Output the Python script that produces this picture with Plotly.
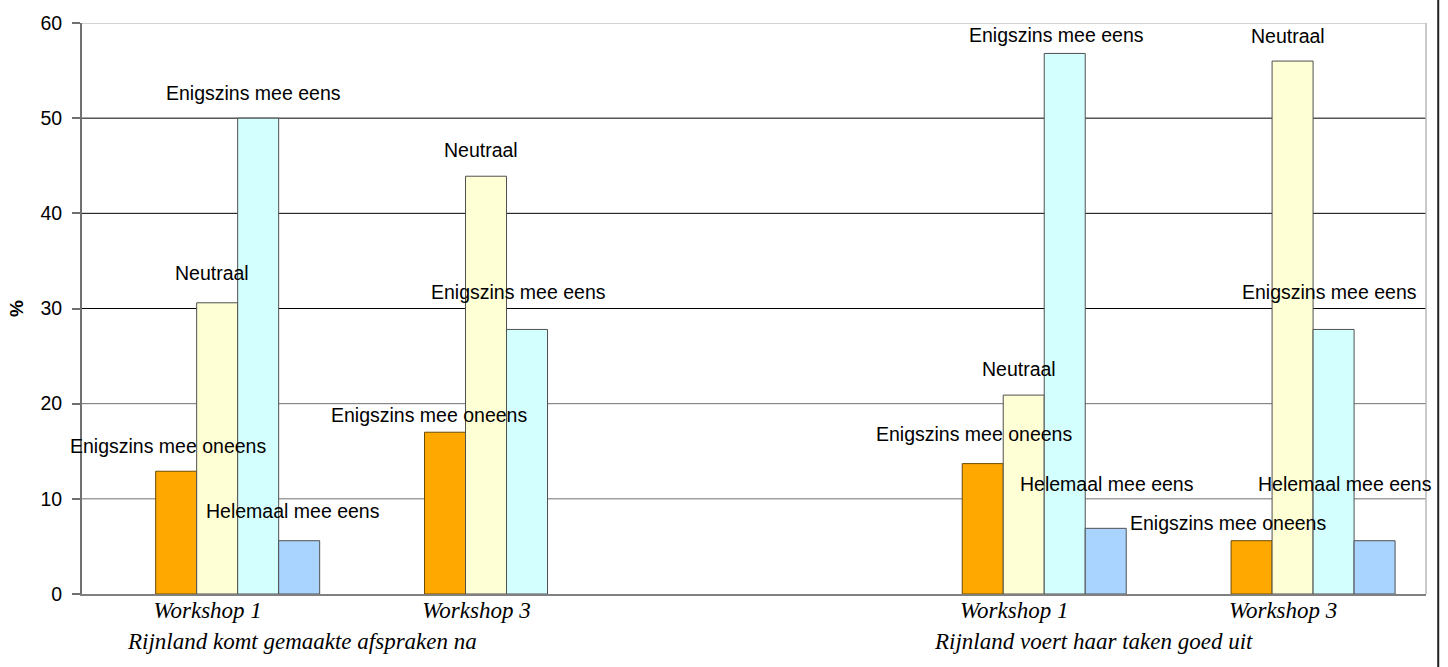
import plotly.graph_objects as go

# ---------------- data ----------------
groups = ["Rijnland komt gemaakte afspraken na", "Rijnland voert haar taken goed uit"]
workshops = ["Workshop 1", "Workshop 3"]
series_names = ["Enigszins mee oneens", "Neutraal", "Enigszins mee eens", "Helemaal mee eens"]
oneens = [12.9, 17.0, 13.7, 5.6]
neutraal = [30.6, 43.9, 20.9, 56.0]
eens = [50.0, 27.8, 56.8, 27.8]
helemaal = [5.6, None, 6.9, 5.6]
y_ticks = [0, 10, 20, 30, 40, 50, 60]

# ---------------- style ----------------
colors = ["#FFA800", "#FFFFD6", "#D4FFFF", "#A8D4FF"]
outline = ["#6b4c00", "#505050", "#505050", "#505050"]
# label offsets (px) relative to top-centre of each bar: (dx, dy)
label_dx = [[-8.4, -16.1, -8.3, -23.4],
            [-5.3, -5.2, -5.2, -5.0],
            [-4.8, -8.6, -8.4, -4.1],
            [-6.5, 0, 1.4, -29.8]]
label_dy = [[25.5, 17.3, 30.0, 17.6],
            [29.5, 26.3, 26.4, 25.5],
            [25.2, 37.3, 18.5, 37.9],
            [29.3, 0, 44.6, 57.0]]

bargap = 0.39
n_series = 4
bw = (1 - bargap) / n_series

# category positions: one empty slot between the two groups
xpos = []
ticktext = []
for gi, g in enumerate(groups):
    for wi, w in enumerate(workshops):
        xpos.append(gi * 3 + wi)
        ticktext.append(w)

values = [oneens, neutraal, eens, helemaal]

fig = go.Figure()
for si, (name, vals) in enumerate(zip(series_names, values)):
    fig.add_trace(go.Bar(
        x=xpos, y=vals, name=name,
        marker=dict(color=colors[si], line=dict(color=outline[si], width=1)),
        showlegend=False,
    ))

annotations = []
label_font = dict(family="Liberation Sans, Arial", size=19.5, color="black")
for si, (name, vals) in enumerate(zip(series_names, values)):
    for ci, v in enumerate(vals):
        if v is None:
            continue
        annotations.append(dict(
            x=xpos[ci] + (si - (n_series - 1) / 2) * bw, y=v,
            xref="x", yref="y", text=name, showarrow=False,
            xanchor="center", yanchor="middle",
            xshift=label_dx[si][ci], yshift=label_dy[si][ci],
            font=label_font,
        ))

# group labels under the axis
for gi, g in enumerate(groups):
    annotations.append(dict(
        x=xpos[gi * 2], y=0, xref="x", yref="y", text=g, showarrow=False,
        xanchor="left", yanchor="middle", xshift=-112.7, yshift=-47,
        font=dict(family="Liberation Serif", size=23, color="black", style="italic"),
    ))

shapes = []
# horizontal gridlines: upper ones black, lower ones grey, top border light grey
for t in y_ticks[1:]:
    if t == 60:
        col = "#a8a8a8"
    elif t >= 30:
        col = "#000000"
    else:
        col = "#707070"
    shapes.append(dict(type="line", xref="x domain", yref="y", x0=0, x1=1, y0=t, y1=t,
                       line=dict(color=col, width=1), layer="below"))
# right border of plot area
shapes.append(dict(type="line", xref="x domain", yref="y domain", x0=1, x1=1, y0=0, y1=1,
                   line=dict(color="#b8b8b8", width=1.5), layer="below"))
# outer frame line at the right edge of the image
shapes.append(dict(type="line", xref="paper", yref="paper", x0=1.0091, x1=1.0091, y0=-0.2, y1=1.1,
                   line=dict(color="#202020", width=2)))

fig.update_layout(
    width=1448, height=667,
    margin=dict(l=82, r=22, t=15, b=73, pad=0),
    paper_bgcolor="white", plot_bgcolor="white",
    barmode="group", bargap=bargap, bargroupgap=0,
    annotations=annotations, shapes=shapes,
    xaxis=dict(
        range=[-0.579, 4.420], tickvals=xpos, ticktext=ticktext,
        showgrid=False, zeroline=False, ticks="",
        showline=True, linecolor="#808080", linewidth=2,
        tickfont=dict(family="Liberation Serif", size=23, color="black", style="italic"),
        ticklabelshift=-30, ticklabelstandoff=-6,
    ),
    yaxis=dict(
        range=[0, 60], tickvals=y_ticks, showgrid=False, zeroline=False,
        showline=True, linecolor="#707070", linewidth=2,
        ticks="outside", ticklen=8, tickwidth=2, tickcolor="#707070",
        tickfont=dict(family="Liberation Sans, Arial", size=19.5, color="black"),
        ticklabelstandoff=6,
        title=dict(text="<b>%</b>", font=dict(family="Liberation Sans, Arial", size=19, color="black"),
                   standoff=12),
    ),
)

fig.write_html("out.html")
